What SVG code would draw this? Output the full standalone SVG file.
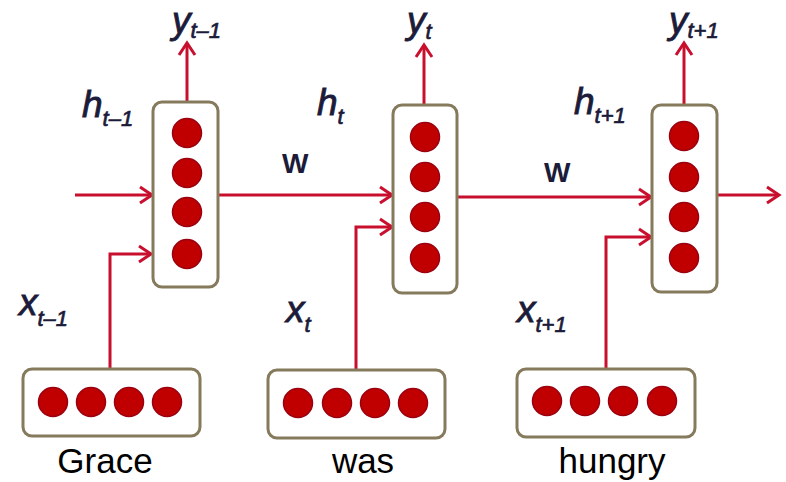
<svg xmlns="http://www.w3.org/2000/svg" width="786" height="482" viewBox="0 0 786 482">
  <defs>
    <style>
      .cell { fill: #ffffff; stroke: #857a5c; stroke-width: 3; }
      .unit { fill: #c00000; stroke: #9a0010; stroke-width: 1.5; }
      .wire { fill: none; stroke: #c8102e; stroke-width: 3; }
      .lbl { font-family: "Liberation Sans", Arial, sans-serif; font-style: italic; font-size: 37px; fill: #1c1c3a; stroke: #1c1c3a; stroke-width: 0.9; }
      .sub { font-size: 22px; stroke-width: 0.7; }
      .w { font-family: "Liberation Sans", Arial, sans-serif; font-size: 28px; font-weight: bold; fill: #1c1c3a; }
      .word { font-family: "Liberation Sans", Arial, sans-serif; font-size: 35px; fill: #000000; text-anchor: middle; }
    </style>
    <marker id="head" markerUnits="userSpaceOnUse" viewBox="0 0 18 20" refX="15" refY="10" markerWidth="18" markerHeight="20" orient="auto">
      <path d="M3,2 L15,10 L3,18" fill="none" stroke="#c8102e" stroke-width="3"/>
    </marker>
  </defs>

  <!-- connectors -->
  <g id="connectors" class="wire" marker-end="url(#head)">
    <line x1="187" y1="102" x2="187" y2="43"/>
    <line x1="424" y1="105" x2="424" y2="45"/>
    <line x1="684" y1="105" x2="684" y2="43"/>
    <line x1="75" y1="195" x2="152" y2="195"/>
    <line x1="218" y1="195" x2="392" y2="195"/>
    <line x1="457" y1="197" x2="651" y2="197"/>
    <line x1="717" y1="195" x2="779" y2="195"/>
    <polyline points="110,369 110,254 151,254"/>
    <polyline points="356,370 356,227 392,227"/>
    <polyline points="606,369 606,237 651,237"/>
  </g>

  <!-- hidden state cells -->
  <g id="h1">
    <rect class="cell" x="153" y="102" width="65" height="185" rx="9"/>
    <circle class="unit" cx="187" cy="133" r="14.5"/>
    <circle class="unit" cx="187" cy="173" r="14.5"/>
    <circle class="unit" cx="187" cy="212" r="14.5"/>
    <circle class="unit" cx="187" cy="254" r="14.5"/>
  </g>
  <g id="h2">
    <rect class="cell" x="393" y="105" width="64" height="188" rx="9"/>
    <circle class="unit" cx="425" cy="137" r="14.5"/>
    <circle class="unit" cx="425" cy="177" r="14.5"/>
    <circle class="unit" cx="425" cy="217" r="14.5"/>
    <circle class="unit" cx="425" cy="258" r="14.5"/>
  </g>
  <g id="h3">
    <rect class="cell" x="652" y="105" width="65" height="187" rx="9"/>
    <circle class="unit" cx="684" cy="136" r="14.5"/>
    <circle class="unit" cx="684" cy="177" r="14.5"/>
    <circle class="unit" cx="684" cy="217" r="14.5"/>
    <circle class="unit" cx="684" cy="258" r="14.5"/>
  </g>

  <!-- input word vectors -->
  <g id="x1">
    <rect class="cell" x="23" y="369" width="177" height="67" rx="9"/>
    <circle class="unit" cx="53" cy="402" r="14.5"/>
    <circle class="unit" cx="91" cy="402" r="14.5"/>
    <circle class="unit" cx="129" cy="402" r="14.5"/>
    <circle class="unit" cx="167" cy="402" r="14.5"/>
    <text class="word" x="105" y="473">Grace</text>
  </g>
  <g id="x2">
    <rect class="cell" x="268" y="370" width="177" height="68" rx="9"/>
    <circle class="unit" cx="298" cy="403" r="14.5"/>
    <circle class="unit" cx="337" cy="403" r="14.5"/>
    <circle class="unit" cx="375" cy="403" r="14.5"/>
    <circle class="unit" cx="413" cy="403" r="14.5"/>
    <text class="word" x="363" y="473">was</text>
  </g>
  <g id="x3">
    <rect class="cell" x="517" y="369" width="178" height="68" rx="9"/>
    <circle class="unit" cx="547" cy="401" r="14.5"/>
    <circle class="unit" cx="585" cy="401" r="14.5"/>
    <circle class="unit" cx="623" cy="401" r="14.5"/>
    <circle class="unit" cx="662" cy="401" r="14.5"/>
    <text class="word" x="612" y="473">hungry</text>
  </g>

  <!-- symbol labels -->
  <g id="labels">
    <text class="lbl" x="172" y="33" font-size="36">y<tspan class="sub" dy="5">t–1</tspan></text>
    <text class="lbl" x="407" y="33" font-size="36">y<tspan class="sub" dy="6">t</tspan></text>
    <text class="lbl" x="669" y="33" font-size="36">y<tspan class="sub" dy="5">t+1</tspan></text>
    <text class="lbl" x="82" y="117">h<tspan class="sub" dy="9">t–1</tspan></text>
    <text class="lbl" x="317" y="115">h<tspan class="sub" dy="9">t</tspan></text>
    <text class="lbl" x="574" y="114">h<tspan class="sub" dy="9">t+1</tspan></text>
    <text class="lbl" x="19" y="315">x<tspan class="sub" dy="11">t–1</tspan></text>
    <text class="lbl" x="286" y="322">x<tspan class="sub" dy="10">t</tspan></text>
    <text class="lbl" x="517" y="322">x<tspan class="sub" dy="10">t+1</tspan></text>
    <text class="w" x="282" y="173">W</text>
    <text class="w" x="544" y="182">W</text>
  </g>
</svg>
